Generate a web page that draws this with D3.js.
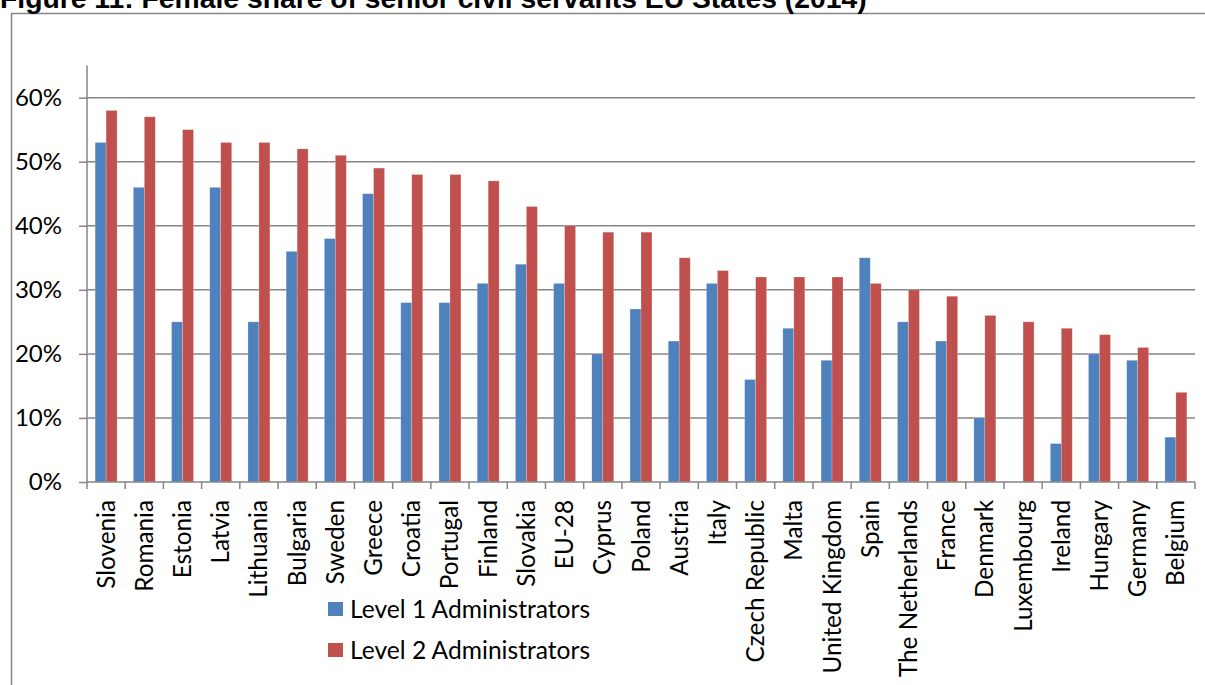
<!DOCTYPE html>
<html lang="en">
<meta charset="utf-8">
<title>Female share of senior civil servants EU States (2014)</title>
<style>
  body { margin: 0; background: #fff; }
  svg { display: block; }
</style>
<body>
  <script src="https://cdn.jsdelivr.net/npm/d3@7"></script>
  <script>
    // data
    var countries = ["Slovenia", "Romania", "Estonia", "Latvia", "Lithuania", "Bulgaria", "Sweden",
      "Greece", "Croatia", "Portugal", "Finland", "Slovakia", "EU-28", "Cyprus", "Poland", "Austria",
      "Italy", "Czech Republic", "Malta", "United Kingdom", "Spain", "The Netherlands", "France",
      "Denmark", "Luxembourg", "Ireland", "Hungary", "Germany", "Belgium"];
    var level1 = [53, 46, 25, 46, 25, 36, 38, 45, 28, 28, 31, 34, 31, 20, 27, 22, 31, 16, 24, 19,
      35, 25, 22, 10, 0, 6, 20, 19, 7];
    var level2 = [58, 57, 55, 53, 53, 52, 51, 49, 48, 48, 47, 43, 40, 39, 39, 35, 33, 32, 32, 32,
      31, 30, 29, 26, 25, 24, 23, 21, 14];
    var seriesNames = ["Level 1 Administrators", "Level 2 Administrators"];
    var yTicks = [0, 10, 20, 30, 40, 50, 60];
    var title = "Figure 11: Female share of senior civil servants EU States (2014)";

    var colors = ["#4F81BD", "#C0504D"];
    var gridColor = "#868686";
    var labelFont = "Lato, 'Open Sans', sans-serif";

    var W = 1205, H = 685;
    var plot = { left: 87, right: 1195, top: 65.6, bottom: 482 };

    var svg = d3.select("body").append("svg")
      .attr("width", W)
      .attr("height", H);

    // outer frame, runs off the right and bottom of the picture
    svg.append("rect")
      .attr("x", 11.5).attr("y", 13.5)
      .attr("width", W).attr("height", H)
      .attr("fill", "none")
      .attr("stroke", gridColor)
      .attr("stroke-width", 1.5);

    // title, mostly cut off at the top (as in the source)
    svg.append("text")
      .attr("x", 0).attr("y", 7.5)
      .attr("font-family", "'Liberation Sans', Arial, sans-serif")
      .attr("font-weight", "bold")
      .attr("font-size", 28.3)
      .attr("fill", "#000")
      .text(title);

    // scales
    var x = d3.scaleBand()
      .domain(countries)
      .range([plot.left, plot.right])
      .padding(0);

    var xInner = d3.scaleBand()
      .domain(d3.range(seriesNames.length))
      .range([0, x.bandwidth()])
      .paddingInner(0)
      .paddingOuter(0.74);

    var y = d3.scaleLinear()
      .domain([0, 65])
      .range([plot.bottom, plot.top]);

    // gridlines
    svg.append("g")
      .selectAll("line")
      .data(yTicks.filter(function(d) { return d > 0; }))
      .join("line")
      .attr("x1", plot.left)
      .attr("x2", plot.right)
      .attr("y1", function(d) { return y(d); })
      .attr("y2", function(d) { return y(d); })
      .attr("stroke", gridColor)
      .attr("stroke-width", 1.5);

    // bars
    var groups = svg.append("g")
      .selectAll("g")
      .data(countries)
      .join("g")
      .attr("transform", function(d) { return "translate(" + x(d) + ",0)"; });

    groups.selectAll("rect")
      .data(function(d, i) { return [level1[i], level2[i]]; })
      .join("rect")
      .attr("x", function(d, j) { return xInner(j); })
      .attr("width", xInner.bandwidth())
      .attr("y", function(d) { return y(d); })
      .attr("height", function(d) { return y(0) - y(d); })
      .attr("fill", function(d, j) { return colors[j]; })
      .attr("stroke", function(d) { return d > 0 ? "rgba(255,255,255,0.35)" : "none"; })
      .attr("stroke-width", 0.6);

    // y axis
    var yAxis = svg.append("g")
      .attr("transform", "translate(" + plot.left + ",0)")
      .call(d3.axisLeft(y)
        .tickValues(yTicks)
        .tickSize(8)
        .tickPadding(17)
        .tickFormat(function(d) { return d + "%"; }));

    yAxis.select(".domain").remove();
    yAxis.append("line")
      .attr("x1", 0).attr("x2", 0)
      .attr("y1", plot.top).attr("y2", plot.bottom)
      .attr("stroke", gridColor)
      .attr("stroke-width", 1.5);
    yAxis.selectAll(".tick line").attr("stroke", gridColor).attr("stroke-width", 1.5);
    yAxis.selectAll(".tick text")
      .attr("font-family", labelFont)
      .attr("font-size", 24)
      .attr("fill", "#000");

    // x axis: ticks sit on the category boundaries
    var boundaries = countries.map(function(d) { return x(d); }).concat([plot.right]);
    var xAxis = svg.append("g");
    xAxis.append("line")
      .attr("x1", plot.left).attr("x2", plot.right)
      .attr("y1", plot.bottom).attr("y2", plot.bottom)
      .attr("stroke", gridColor)
      .attr("stroke-width", 1.5);
    xAxis.selectAll("line.tk")
      .data(boundaries)
      .join("line")
      .attr("class", "tk")
      .attr("x1", function(d) { return d; })
      .attr("x2", function(d) { return d; })
      .attr("y1", plot.bottom)
      .attr("y2", plot.bottom + 7)
      .attr("stroke", gridColor)
      .attr("stroke-width", 1.5);

    xAxis.selectAll("text")
      .data(countries)
      .join("text")
      .attr("transform", function(d) {
        return "translate(" + (x(d) + x.bandwidth() / 2) + "," + (plot.bottom + 18) + ") rotate(-90)";
      })
      .attr("dy", "0.35em")
      .attr("text-anchor", "end")
      .attr("font-family", labelFont)
      .attr("font-size", 24.3)
      .attr("fill", "#000")
      .text(function(d) { return d; });

    // legend
    var legend = svg.append("g")
      .attr("transform", "translate(328,602)");
    var items = legend.selectAll("g")
      .data(seriesNames)
      .join("g")
      .attr("transform", function(d, i) { return "translate(0," + (i * 41) + ")"; });
    items.append("rect")
      .attr("width", 15).attr("height", 14)
      .attr("fill", function(d, i) { return colors[i]; });
    items.append("text")
      .attr("x", 22).attr("y", 7)
      .attr("dy", "0.35em")
      .attr("font-family", labelFont)
      .attr("font-size", 24.6)
      .attr("fill", "#000")
      .text(function(d) { return d; });
  </script>
</body>
</html>
